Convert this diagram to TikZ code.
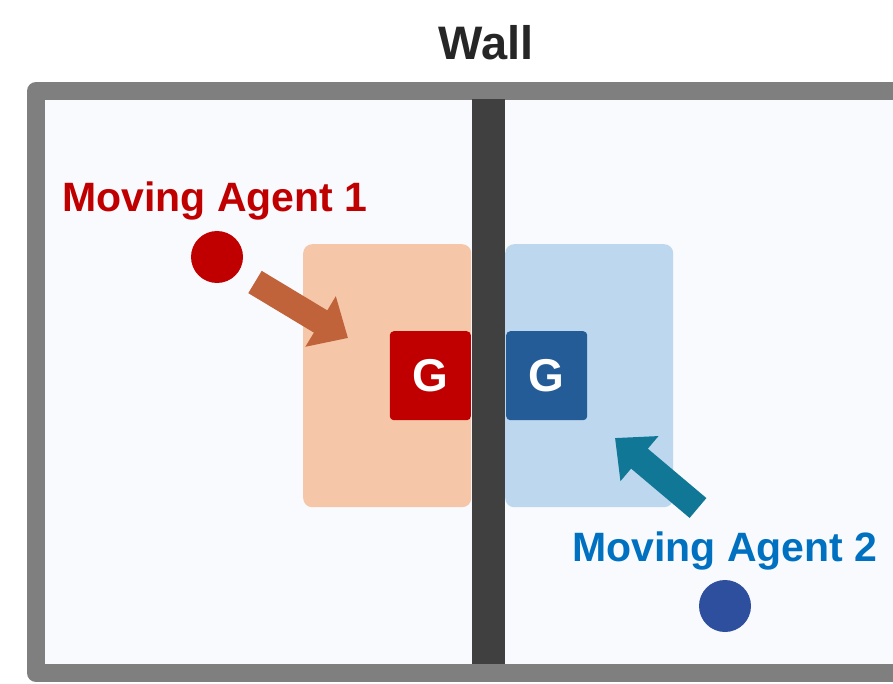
\documentclass[tikz,border=0pt]{standalone}
\usepackage{fontspec}
\setmainfont{Liberation Sans}
\usetikzlibrary{arrows.meta, positioning}

\definecolor{agentred}{RGB}{192,0,0}
\definecolor{agentblue}{RGB}{0,112,192}
\definecolor{dotblue}{RGB}{46,79,158}
\definecolor{goalblue}{RGB}{36,92,152}
\definecolor{areaorange}{RGB}{245,199,168}
\definecolor{areablue}{RGB}{189,215,238}
\definecolor{pushorange}{RGB}{192,98,58}
\definecolor{pushteal}{RGB}{16,120,150}
\definecolor{framegray}{RGB}{127,127,127}
\definecolor{wallgray}{RGB}{64,64,64}
\definecolor{roomfill}{RGB}{249,250,253}

\begin{document}
\begin{tikzpicture}[
    x=1pt, y=-1pt,
    zone/.style={rectangle, rounded corners=9pt, minimum width=168pt, minimum height=263pt, inner sep=0pt, anchor=north west},
    goalbox/.style={rectangle, rounded corners=4pt, minimum width=81pt, minimum height=89pt, inner sep=0pt,
                    text=white, font=\bfseries\fontsize{46}{50}\selectfont},
    agentdot/.style={circle, minimum size=52pt, inner sep=0pt},
    agenttext/.style={anchor=base, inner sep=0pt, font=\bfseries\fontsize{41}{48}\selectfont},
    pusharrow/.style={line width=26pt, -{Triangle[length=32pt, width=57pt]}}
]
    \clip (0,0) rectangle (893,684);

    % Room with its frame
    \draw[line width=18pt, line join=round, draw=framegray, fill=roomfill] (36,91) rectangle (920,673);
    \node[anchor=base, inner sep=0pt, text=black!85,
          font=\bfseries\fontsize{47}{52}\selectfont] (walltitle) at (486,60) {Wall};

    % Areas round the goals
    \node[zone, fill=areaorange] (zone1) at (303,244) {};
    \node[zone, fill=areablue] (zone2) at (505,244) {};

    % Goals on both sides
    \node[goalbox, fill=agentred, anchor=north east] (goal1) at (471,331) {G};
    \node[goalbox, fill=goalblue, anchor=north west] (goal2) at (506,331) {G};

    % Wall in the middle
    \fill[wallgray] (471.5,99) rectangle (505,664);

    % Agents
    \node[agentdot, fill=agentred] (agent1) at (217,257) {};
    \node[agentdot, fill=dotblue] (agent2) at (725,606) {};
    \node[agenttext, text=agentred] (name1) at (215,212) {Moving Agent 1};
    \node[agenttext, text=agentblue] (name2) at (725,561) {Moving Agent 2};

    % Pushing directions
    \coordinate (push1from) at (255,282);
    \coordinate (push1to) at (348,338);
    \coordinate (push2from) at (698,508);
    \coordinate (push2to) at (615,438);
    \draw[pusharrow, pushorange] (push1from) -- (push1to);
    \draw[pusharrow, pushteal] (push2from) -- (push2to);
\end{tikzpicture}
\end{document}
